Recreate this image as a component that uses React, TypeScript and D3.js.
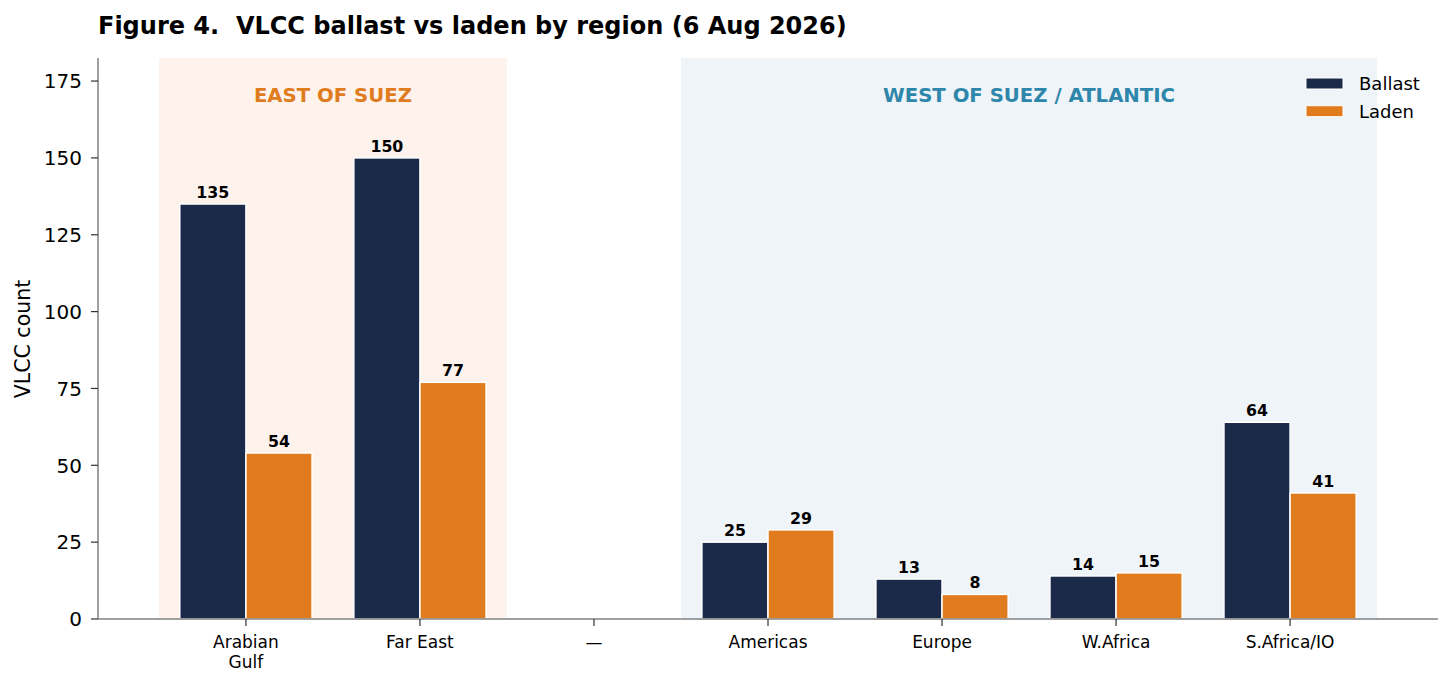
import React from "react";
import * as d3 from "d3";

const categories = ["Arabian\nGulf", "Far East", "—", "Americas", "Europe", "W.Africa", "S.Africa/IO"];
const ballast: (number | null)[] = [135, 150, null, 25, 13, 14, 64];
const laden: (number | null)[] = [54, 77, null, 29, 8, 15, 41];
const yTicks = [0, 25, 50, 75, 100, 125, 150, 175];
const regions = [
  { label: "EAST OF SUEZ", from: -0.5, to: 1.5, fill: "#fdf3ec", color: "#e07b1e" },
  { label: "WEST OF SUEZ / ATLANTIC", from: 2.5, to: 6.5, fill: "#eff4f9", color: "#2e86ab" },
];
const seriesNames = ["Ballast", "Laden"];
const colors = ["#1c2a4a", "#e07b1e"];

const W = 1454;
const H = 687;
const M = { left: 98, right: 1438, top: 58, bottom: 619 };
const FONT = "DejaVu Sans, sans-serif";

export default function App() {
  const x = d3.scaleLinear().domain([-0.85, 6.85]).range([M.left, M.right]);
  const y = d3.scaleLinear().domain([0, 182.5]).range([M.bottom, M.top]);
  const bw = 0.38;
  const series = [ballast, laden];

  return (
    <svg width={W} height={H} style={{ position: "absolute", left: 0, top: 0, fontFamily: FONT }}>
      <rect x={0} y={0} width={W} height={H} fill="#fff" />
      {regions.map((r) => (
        <g key={r.label}>
          <rect x={x(r.from)} y={M.top} width={x(r.to) - x(r.from)} height={M.bottom - M.top} fill={r.fill} />
          <text x={(x(r.from) + x(r.to)) / 2} y={102} textAnchor="middle" fontSize={19.7} fontWeight="bold" fill={r.color}>
            {r.label}
          </text>
        </g>
      ))}
      {series.map((s, si) =>
        s.map((v, i) => {
          if (v == null) return null;
          const x0 = x(i + (si === 0 ? -bw : 0));
          const x1 = x(i + (si === 0 ? 0 : bw));
          return (
            <g key={`${si}-${i}`}>
              <rect x={x0} y={y(v)} width={x1 - x0} height={y(0) - y(v)} fill={colors[si]} stroke="#fff" strokeWidth={1.5} />
              <text x={(x0 + x1) / 2} y={y(v) - 6} textAnchor="middle" fontSize={15.8} fontWeight="bold" fill="#000">
                {v}
              </text>
            </g>
          );
        })
      )}
      {/* axes */}
      <line x1={M.left} x2={M.left} y1={M.top} y2={M.bottom} stroke="#808080" strokeWidth={1.5} />
      <line x1={M.left} x2={M.right} y1={M.bottom} y2={M.bottom} stroke="#808080" strokeWidth={1.5} />
      {yTicks.map((t) => (
        <g key={t}>
          <line x1={M.left - 7} x2={M.left} y1={y(t)} y2={y(t)} stroke="#333" strokeWidth={1.2} />
          <text x={M.left - 16} y={y(t)} dy="0.36em" textAnchor="end" fontSize={20} fill="#000">
            {t}
          </text>
        </g>
      ))}
      {categories.map((c, i) => (
        <g key={c}>
          <line x1={x(i)} x2={x(i)} y1={M.bottom} y2={M.bottom + 7} stroke="#333" strokeWidth={1.2} />
          {c.split("\n").map((line, li) => (
            <text key={li} x={x(i)} y={M.bottom + 29 + li * 20} textAnchor="middle" fontSize={17} fill="#000">
              {line}
            </text>
          ))}
        </g>
      ))}
      <text transform={`translate(29.5,339) rotate(-90)`} textAnchor="middle" fontSize={20.5} fill="#000">
        VLCC count
      </text>
      <text x={98} y={34} fontSize={24} fontWeight="bold" fill="#000" style={{ whiteSpace: "pre" }} xmlSpace="preserve">
        {"Figure 4.  VLCC ballast vs laden by region (6 Aug 2026)"}
      </text>
      {seriesNames.map((n, i) => (
        <g key={n}>
          <rect x={1306} y={78 + i * 27.7} width={37} height={11} fill={colors[i]} stroke="#fff" strokeWidth={1} />
          <text x={1359} y={84 + i * 27.7} dy="0.36em" fontSize={18} fill="#000">
            {n}
          </text>
        </g>
      ))}
    </svg>
  );
}
